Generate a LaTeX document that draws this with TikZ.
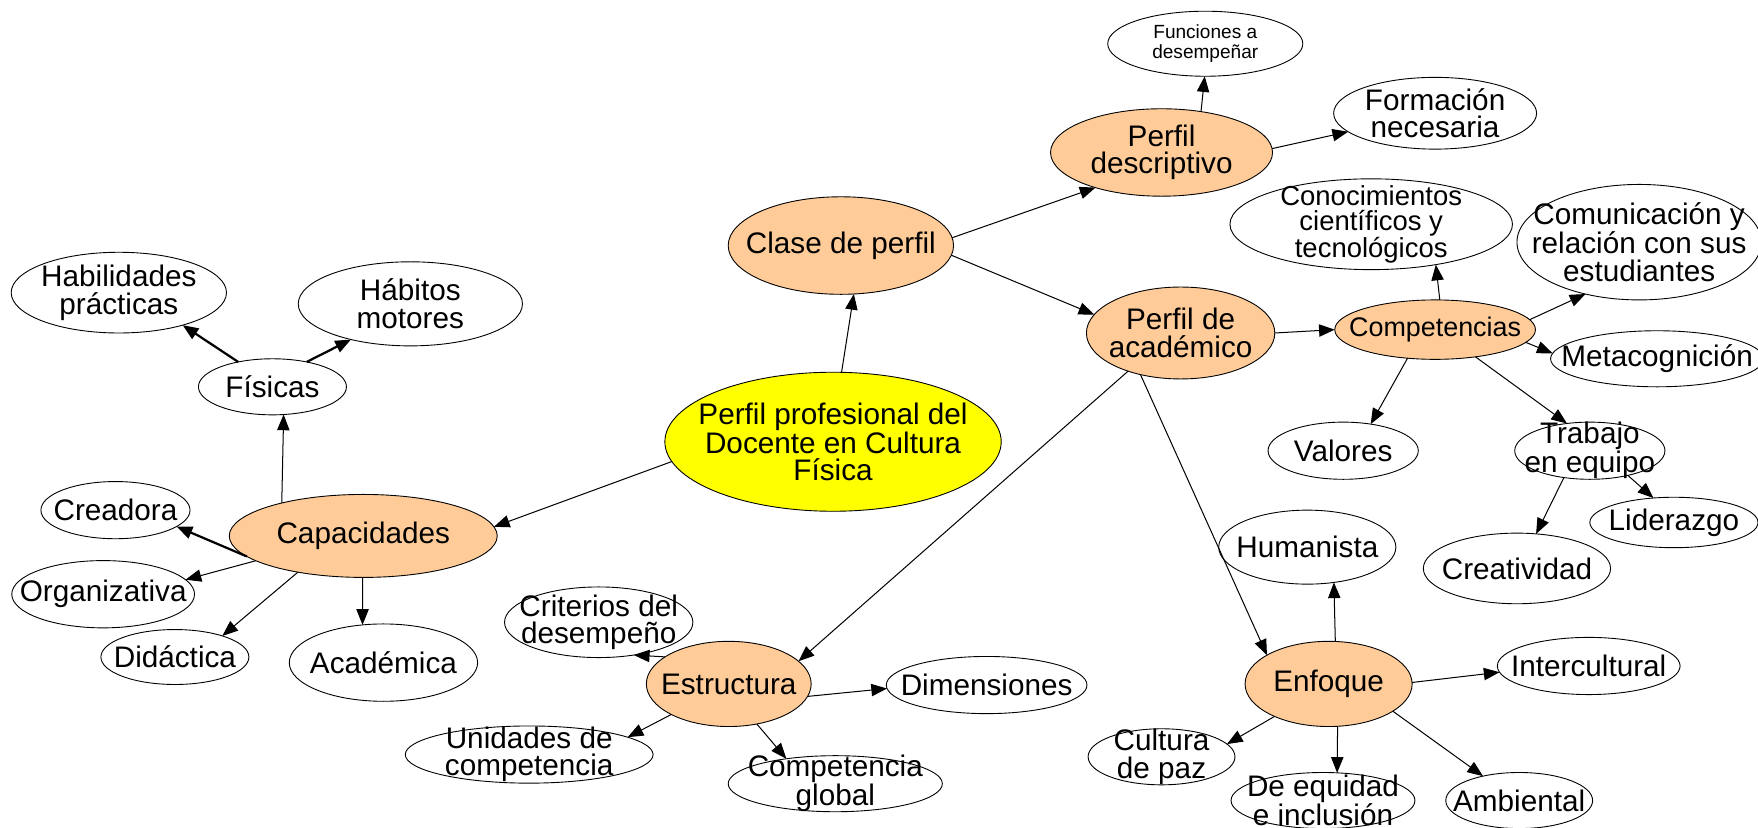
\documentclass[tikz,border=0pt]{standalone}
\usepackage{fontspec}
\setmainfont{Liberation Sans}
\usepackage{xcolor}
\usepackage{tikz}
\usetikzlibrary{arrows.meta,shapes.geometric}
\definecolor{peach}{HTML}{FFCC99}
\definecolor{sun}{HTML}{FFFF00}
\tikzset{
	bubble/.style 2 args={draw, ellipse, fill=white, line width=0.8pt,
			inner sep=0pt, outer sep=0pt, minimum width=#1, minimum height=#2},
	core/.style 2 args={bubble={#1}{#2}, fill=peach},
	link/.style={-{Triangle[length=14pt,width=11pt]}, line width=0.9pt},
	boldlink/.style={link, line width=2pt}
}

\begin{document}
\begin{tikzpicture}[x=1pt, y=-1pt, font=\fontsize{26.5}{24.5}\selectfont,
		every label/.append style={align=center}]
		\fill [white] (0,0) rectangle (1568,738.5);
		\clip (0,0) rectangle (1568,738.5);
		% centro
		\node [bubble={300}{124}, fill=sun, label=center:{Perfil profesional del\\Docente en Cultura\\Física}] (prof) at (743,394) {};
		\node [core={201}{87}, label=center:{Clase de perfil}] (clase) at (750,219) {};
		\node [core={198}{78}, label=center:{Perfil\\descriptivo}] (descr) at (1036,136) {};
		\node [bubble={174}{58}, label={[font=\fontsize{17}{18}\selectfont]center:{Funciones a\\desempeñar}}] (funciones) at (1075,39) {};
		\node [bubble={181}{64}, label=center:{Formación\\necesaria}] (formacion) at (1280,101) {};
		\node [core={168}{82}, label=center:{Perfil de\\académico}] (acad) at (1053,297) {};
		% competencias
		\node [core={179}{53}, label={[font=\fontsize{24}{24}\selectfont]center:{Competencias}}] (comp) at (1280,294) {};
		\node [bubble={252}{81}, label={[font=\fontsize{24.5}{22.5}\selectfont]center:{Conocimientos\\científicos y\\tecnológicos}}] (conoc) at (1223,200) {};
		\node [bubble={218}{103}, label=center:{Comunicación y\\relación con sus\\estudiantes}] (comun) at (1462,216) {};
		\node [bubble={190}{50}, label=center:{Metacognición}] (metacog) at (1478,320) {};
		\node [bubble={134}{51}, label=center:{Valores}] (valores) at (1198,402) {};
		\node [bubble={134}{51}, label=center:{Trabajo\\en equipo}] (trabajo) at (1418,402) {};
		\node [bubble={150}{45}, label=center:{Liderazgo}] (lider) at (1493,466) {};
		\node [bubble={167}{63}, label=center:{Creatividad}] (creat) at (1353,507) {};
		% enfoque
		\node [core={149}{76}, label=center:{Enfoque}] (enfoque) at (1185,610) {};
		\node [bubble={158}{66}, label=center:{Humanista}] (human) at (1166,488) {};
		\node [bubble={163}{51}, label=center:{Intercultural}] (intercult) at (1417,594) {};
		\node [bubble={131}{50}, label=center:{Cultura\\de paz}] (cultura) at (1036,675) {};
		\node [bubble={164}{50}, label=center:{De equidad\\e inclusión}] (equidad) at (1180,714) {};
		\node [bubble={131}{50}, label=center:{Ambiental}] (ambiental) at (1355,714) {};
		% estructura
		\node [core={147}{76}, label=center:{Estructura}] (estr) at (650,610) {};
		\node [bubble={168}{63}, label=center:{Criterios del\\desempeño}] (criterios) at (534,555) {};
		\node [bubble={179}{51}, label=center:{Dimensiones}] (dimens) at (880,611) {};
		\node [bubble={221}{51}, label=center:{Unidades de\\competencia}] (unidades) at (472,673) {};
		\node [bubble={191}{50}, label=center:{Competencia\\global}] (global) at (745,699) {};
		% capacidades
		\node [core={239}{74}, label=center:{Capacidades}] (capac) at (324,478) {};
		\node [bubble={132}{50}, label=center:{Físicas}] (fisicas) at (243,345) {};
		\node [bubble={192}{72}, label=center:{Habilidades\\prácticas}] (habil) at (106,261) {};
		\node [bubble={200}{75}, label=center:{Hábitos\\motores}] (habitos) at (366,271) {};
		\node [bubble={133}{51}, label=center:{Creadora}] (creadora) at (103,455) {};
		\node [bubble={163}{60}, label=center:{Organizativa}] (organiz) at (92,530) {};
		\node [bubble={132}{49}, label=center:{Didáctica}] (didact) at (156,586) {};
		\node [bubble={168}{69}, label=center:{Académica}] (academica) at (342,591) {};

		\draw [link] (prof.83) -- (clase.-75);
		\draw [link] (clase.4) -- (descr.208);
		\draw [link] (clase.-5) -- (acad.168);
		\draw [link] (descr.46) -- (funciones.-91);
		\draw [link] (descr.2) -- (formacion.192);
		\draw [link] (acad.east) -- (comp.west);
		\draw [link] (comp.81) -- (conoc.-32);
		\draw [link] (comp.6) -- (comun.224);
		\draw [link] (comp.-8) -- (metacog.177);
		\draw [link] (comp.226) -- (valores.44);
		\draw [link] (comp.-34) -- (trabajo.130);
		\draw [link] (trabajo.226) -- (creat.61);
		\draw [link] (trabajo.-33) -- (lider.130);
		\draw [link] (acad.216) -- (estr.18);
		\draw [link] (acad.226) -- (enfoque.155);
		\draw [link] (enfoque.81) -- (human.-53);
		\draw [link] (enfoque.1) -- (intercult.184);
		\draw [link] (enfoque.211) -- (cultura.11);
		\draw [link] (enfoque.-78) -- (equidad.63);
		\draw [link] (enfoque.-23) -- (ambiental.146);
		\draw [link] (estr.157) -- (criterios.-43);
		\draw [link] (estr.-9) -- (dimens.182);
		\draw [link] (estr.208) -- (unidades.10);
		\draw [link] (estr.-55) -- (global.153);
		\draw [link] (prof.187) -- (capac.4);
		\draw [link] (capac.158) -- (fisicas.-68);
		\draw [boldlink] (fisicas.144) -- (habil.-27);
		\draw [boldlink] (fisicas.36) -- (habitos.211);
		\draw [boldlink] (capac.190) -- (creadora.-15);
		\draw [link] (capac.193) -- (organiz.10);
		\draw [link] (capac.209) -- (didact.24);
		\draw [link] (capac.-91) -- (academica.119);
	\end{tikzpicture}
\end{document}
